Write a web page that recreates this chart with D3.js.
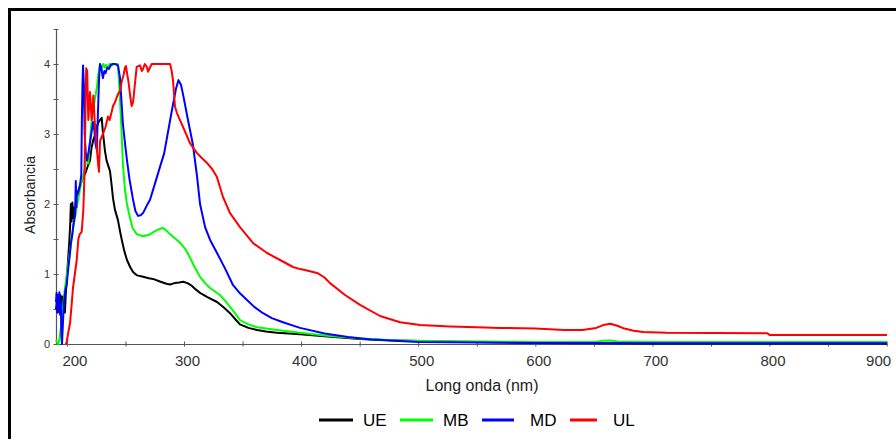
<!DOCTYPE html>
<html>
<head>
<meta charset="utf-8">
<script src="https://cdn.jsdelivr.net/npm/d3@7"></script>
<style>
  html, body { margin: 0; padding: 0; background: #fff; overflow: hidden; }
  svg { display: block; font-family: "Liberation Sans", Arial, sans-serif; }
</style>
</head>
<body>
<svg id="chart" width="896" height="439"></svg>
<script>
// UV-Vis absorbance spectra: [wavelength (nm), absorbance]
const seriesNames  = ["UE", "MB", "MD", "UL"];
const seriesColors = ["#000000", "#00ff00", "#0000ff", "#ff0000"];

const ueSpectrum = [
  [190.7,0.5],[191.5,0.62],[192.3,0.45],[193,0.68],[193.7,0.5],[194.4,0.7],[195.2,0.55],[196,0.68],
  [196.7,0.42],[197.5,0.6],[198.3,0.45],[199,0.7],[200,0.95],[201,1.2],[202,1.45],[202.8,1.7],
  [203.4,2.0],[204,1.75],[204.7,2.02],[205.4,1.8],[206.2,1.95],[207,1.85],[208,2.1],[210,2.2],
  [212,2.3],[214,2.38],[216,2.45],[218,2.55],[219.7,2.62],[221,2.8],[222.6,2.92],[224,2.98],
  [225.5,3.1],[227,3.17],[228.3,3.2],[229.7,3.23],[230.8,3.02],[232.5,2.76],[233.9,2.62],[236.8,2.47],
  [238,2.3],[239.4,2.08],[241,1.92],[243.6,1.77],[245.5,1.6],[247.1,1.47],[249,1.33],[251.3,1.2],
  [254,1.1],[256.5,1.03],[260,0.98],[265,0.96],[270,0.94],[273.5,0.93],[280,0.89],[285,0.86],
  [288,0.85],[292,0.87],[296,0.88],[299.2,0.89],[303,0.87],[306.8,0.83],[310,0.78],[313.7,0.73],
  [320,0.67],[328.2,0.6],[334,0.52],[339.3,0.44],[344,0.35],[347.8,0.28],[355,0.23],[362.3,0.2],
  [370,0.18],[379.4,0.16],[399.1,0.14],[420,0.11],[450,0.07],[480,0.05],[520,0.035],[560,0.025],
  [600,0.015],[660,0.01],[700,0.008],[800,0.008],[900.3,0.008]
];

const mbSpectrum = [
  [190.7,0.06],[191.5,0.03],[192.5,0.0],[193.5,0.05],[195,0.25],[196.5,0.5],[198,0.75],[200,1.0],
  [202,1.25],[204,1.5],[206,1.72],[208,1.92],[210,2.1],[212,2.28],[214,2.4],[215.5,2.52],
  [216.9,2.72],[218.3,2.58],[219.7,2.89],[221.2,3.22],[222.6,3.35],[224,3.51],[225.5,3.65],[226.8,3.84],
  [228.3,4.0],[229.7,3.94],[231,4.0],[232.3,3.95],[233.5,3.99],[235,3.94],[236.5,4.0],[238,3.97],
  [240,4.0],[243.6,4.0],[245,3.6],[246.5,3.1],[247.9,2.55],[249.6,2.2],[251.3,2.0],[253.9,1.8],
  [256,1.66],[259.6,1.57],[265,1.54],[270,1.56],[276,1.62],[282,1.66],[285,1.62],[288,1.57],
  [293,1.5],[297,1.44],[301,1.36],[305,1.24],[309,1.1],[313.7,0.96],[318,0.87],[322.2,0.8],
  [330.7,0.7],[335,0.62],[339.3,0.53],[344,0.43],[347.8,0.34],[355,0.28],[362.3,0.24],[379.4,0.2],
  [399.1,0.16],[420,0.12],[450,0.08],[480,0.055],[520,0.04],[560,0.035],[600,0.03],[650,0.03],
  [658,0.045],[664,0.05],[670,0.035],[700,0.03],[800,0.03],[900.3,0.03]
];

const mdSpectrum = [
  [190.7,0.6],[191.2,0.73],[191.8,0.45],[192.4,0.7],[193,0.5],[193.6,0.74],[194.2,0.42],[194.8,0.6],
  [195.3,0.15],[195.8,0.0],[196.5,0.25],[197.3,0.55],[198.2,0.7],[199,0.8],[199.8,0.84],[201,1.05],
  [202,1.2],[202.7,1.31],[203.5,1.45],[204.5,1.55],[205.5,1.7],[206.3,1.78],[207,1.84],[207.6,2.33],
  [208.1,1.95],[208.4,2.13],[209.5,2.15],[211.2,2.27],[212.3,2.42],[212.8,3.2],[213.3,3.7],[213.8,3.98],
  [214.5,3.7],[215.2,3.0],[216.2,2.7],[217.2,2.62],[218.3,2.72],[219.5,2.85],[220.8,3.0],[222.3,3.17],
  [223.5,3.05],[224.5,2.85],[225.5,2.78],[226.5,3.3],[227.5,3.8],[228.3,4.0],[229.3,3.95],[230.8,3.8],
  [232,3.9],[233,3.87],[234.5,3.95],[236,3.93],[237.5,3.99],[239,4.0],[241,4.0],[243.6,3.98],
  [245.3,3.81],[246.5,3.5],[247.8,3.15],[249.6,2.87],[251.5,2.6],[253.5,2.35],[256.5,2.06],[258.5,1.9],
  [260.7,1.83],[263,1.84],[265,1.87],[268,1.97],[271,2.06],[275,2.28],[279.5,2.53],[283,2.72],
  [285.5,2.95],[289.8,3.35],[293.2,3.65],[295.3,3.77],[297.5,3.7],[299.6,3.53],[303.4,3.2],[307.6,2.85],
  [311.1,2.4],[313.7,2.0],[318,1.67],[322.2,1.49],[328.2,1.3],[335,1.08],[341.9,0.84],[348,0.72],
  [353.8,0.63],[360,0.53],[367.5,0.44],[375,0.37],[384.5,0.31],[399.1,0.23],[420,0.15],[440,0.1],
  [460,0.065],[480,0.045],[500,0.03],[550,0.02],[600,0.015],[700,0.01],[800,0.01],[900.3,0.01]
];

const ulSpectrum = [
  [198.8,0.0],[199.8,0.02],[201,0.15],[202.7,0.3],[204,0.55],[205.2,0.8],[206.8,1.0],[208.4,1.2],
  [209.8,1.5],[211,1.57],[212.6,1.6],[214,1.9],[215,2.4],[215.8,3.3],[216.5,3.94],[217.3,3.9],
  [218.3,3.2],[219.7,3.6],[221.2,3.2],[222.6,3.55],[223.7,3.2],[225.5,2.8],[226.8,2.55],[227.4,2.46],
  [228.3,2.9],[230.8,3.0],[233,3.1],[235.1,3.25],[236.5,3.2],[238.3,3.32],[239.4,3.4],[241,3.45],
  [242.5,3.52],[243.6,3.57],[245.5,3.62],[246.8,3.75],[248.5,3.85],[249.6,3.95],[250.5,3.97],[251.5,3.85],
  [252.4,3.77],[254,3.55],[255.3,3.4],[256.5,3.45],[258,3.7],[259.6,3.96],[262.4,3.98],[264,3.9],
  [265,3.93],[266.5,4.0],[268.2,3.96],[269.3,3.89],[271,3.95],[272.4,4.0],[280,4.0],[288.1,4.0],
  [289.5,3.9],[290.6,3.77],[292.3,3.39],[293.8,3.31],[296,3.22],[299.2,3.1],[305.1,2.87],[310.9,2.73],
  [315,2.66],[319.4,2.59],[324,2.5],[328,2.39],[333.3,2.1],[339.3,1.87],[347.8,1.67],[359,1.44],
  [370.9,1.3],[382,1.2],[393.1,1.1],[399.1,1.07],[405,1.05],[414.4,1.01],[420,0.95],[424.7,0.87],
  [437.5,0.7],[450.3,0.56],[467.4,0.4],[484.5,0.31],[501.5,0.27],[527,0.25],[550,0.24],[570,0.23],
  [600,0.22],[625,0.2],[640,0.2],[652,0.23],[658,0.27],[664,0.29],[670,0.26],[676,0.22],
  [684,0.19],[692,0.17],[712,0.16],[798,0.155],[800,0.13],[900.3,0.13]
];

const xTickValues  = d3.range(200, 901, 50);
const xTickLabels  = [200, 300, 400, 500, 600, 700, 800, 900];
const yTickValues  = d3.range(0, 4.51, 0.5);
const yTickLabels  = [0, 1, 2, 3, 4];

const spectra = [ueSpectrum, mbSpectrum, mdSpectrum, ulSpectrum];

const svg = d3.select("#chart");

// outer frame
svg.append("rect")
  .attr("x", 9.5).attr("y", 9.5)
  .attr("width", 960).attr("height", 500)
  .attr("fill", "#fff")
  .attr("stroke", "#000").attr("stroke-width", 3);

const x = d3.scaleLinear().domain([190.7, 900.3]).range([56, 887]);
const y = d3.scaleLinear().domain([0, 4.5]).range([344, 29]);

const axisColor = "#555";

// x axis
const xAxis = svg.append("g")
  .attr("transform", `translate(0,${y(0)})`)
  .call(d3.axisBottom(x).tickValues(xTickValues).tickSize(5).tickSizeOuter(0)
        .tickFormat(d => xTickLabels.includes(d) ? d : ""));
xAxis.select(".domain").attr("stroke", axisColor).attr("stroke-width", 1.2);
xAxis.selectAll(".tick line").attr("stroke", axisColor).attr("y1", -2.5).attr("y2", 2.5);
xAxis.selectAll(".tick text")
  .attr("fill", "#333").attr("font-size", 15).attr("y", 11).attr("dy", "0.71em")
  .attr("text-anchor", d => d === 200 ? "start" : d === 900 ? "end" : "middle")
  .attr("dx", d => d === 200 ? -5 : d === 900 ? 4 : 3)
  .style("font-family", "'Liberation Sans', Arial, sans-serif");

// y axis
const yAxis = svg.append("g")
  .attr("transform", `translate(${x.range()[0]},0)`)
  .call(d3.axisLeft(y).tickValues(yTickValues).tickSize(5).tickSizeOuter(0)
        .tickFormat(d => yTickLabels.includes(d) ? d : ""));
yAxis.select(".domain").attr("stroke", axisColor).attr("stroke-width", 1.2);
yAxis.selectAll(".tick line").attr("stroke", axisColor).attr("x1", -2.5).attr("x2", 2.5);
yAxis.selectAll(".tick text")
  .attr("fill", "#333").attr("font-size", 11).attr("x", -6)
  .style("font-family", "'Liberation Sans', Arial, sans-serif");

// spectra
const line = d3.line().x(d => x(d[0])).y(d => y(d[1]));
svg.append("g").attr("fill", "none")
  .selectAll("path")
  .data(spectra)
  .join("path")
  .attr("d", line)
  .attr("stroke", (d, i) => seriesColors[i])
  .attr("stroke-width", 2)
  .attr("stroke-linejoin", "round");

// axis titles
svg.append("text")
  .attr("x", 482).attr("y", 391)
  .attr("text-anchor", "middle")
  .attr("font-size", 16).attr("fill", "#222")
  .text("Long onda (nm)");

svg.append("text")
  .attr("transform", "translate(35,195) rotate(-90)")
  .attr("text-anchor", "middle")
  .attr("font-size", 14).attr("fill", "#222")
  .text("Absorbancia");

// legend
const legendLineX = [319, 400, 482, 570];
const legendLineW = [34, 33, 32, 27];
const legendTextX = [363, 443, 530, 613];
const legend = svg.append("g");
seriesNames.forEach((name, i) => {
  legend.append("line")
    .attr("x1", legendLineX[i]).attr("x2", legendLineX[i] + legendLineW[i])
    .attr("y1", 420).attr("y2", 420)
    .attr("stroke", seriesColors[i]).attr("stroke-width", 3);
  legend.append("text")
    .attr("x", legendTextX[i]).attr("y", 426)
    .attr("font-size", 17).attr("fill", "#000")
    .text(name);
});
</script>
</body>
</html>
